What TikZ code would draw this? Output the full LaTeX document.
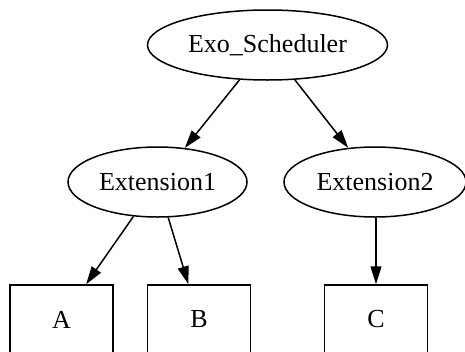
\documentclass[tikz,border=0pt]{standalone}
\usepackage{fontspec}
\setmainfont{Liberation Serif}
\usetikzlibrary{shapes.geometric,arrows.meta}
\begin{document}
\begin{tikzpicture}[x=1pt,y=-1pt,
  every node/.style={font=\fontsize{26}{30}\selectfont, inner sep=0pt},
  oval/.style={draw, ellipse, line width=1.5pt},
  leafbox/.style={draw, rectangle, line width=1.5pt, minimum width=103pt, minimum height=69pt},
  link/.style={draw, line width=1.5pt, -{Triangle[length=18pt,width=11pt]}}]
  \useasboundingbox (0,0) rectangle (465,351);
  \clip (0,0) rectangle (465,351);
  % tree nodes
  \node[oval, minimum width=240pt, minimum height=70pt] (exo) at (267.5,45) {Exo\_Scheduler};
  \node[oval, minimum width=179pt, minimum height=70pt] (ext1) at (157.5,182) {Extension1};
  \node[oval, minimum width=182pt, minimum height=70pt] (ext2) at (375,182) {Extension2};
  \node[leafbox] (a) at (61.5,319.5) {A};
  \node[leafbox] (b) at (199,319.5) {B};
  \node[leafbox] (c) at (376,319.5) {C};
  % edges
  \draw[link] (exo) -- (ext1);
  \draw[link] (exo) -- (ext2);
  \draw[link] (ext1) -- (a);
  \draw[link] (ext1) -- (b);
  \draw[link] (ext2.south -| c.north) -- (c.north);
\end{tikzpicture}
\end{document}
